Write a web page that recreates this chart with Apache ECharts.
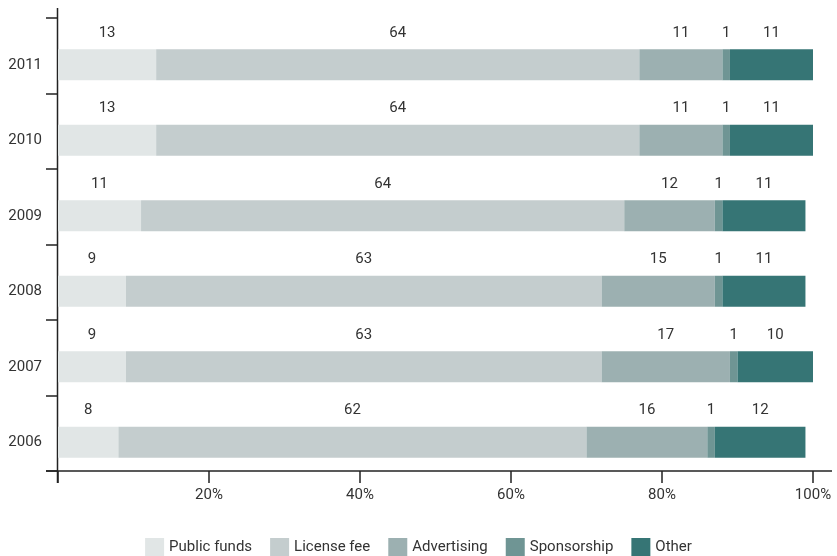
<!DOCTYPE html>
<html>
<head>
<meta charset="utf-8">
<script src="https://cdn.jsdelivr.net/npm/echarts@6/dist/echarts.min.js"></script>
<style>
  html, body { margin: 0; padding: 0; background: #fff; }
  #chart { width: 837px; height: 556px; }
</style>
</head>
<body>
<div id="chart"></div>
<script>
// Funding mix per year, in percent (top row first)
const years = ['2011', '2010', '2009', '2008', '2007', '2006'];
const publicFunds = [13, 13, 11, 9, 9, 8];
const licenseFee = [64, 64, 64, 63, 63, 62];
const advertising = [11, 11, 12, 15, 17, 16];
const sponsorship = [1, 1, 1, 1, 1, 1];
const other = [11, 11, 11, 11, 10, 12];
const xTicks = [0, 20, 40, 60, 80, 100];

const seriesDefs = [
  { name: 'Public funds', data: publicFunds, color: '#e1e6e6' },
  { name: 'License fee', data: licenseFee, color: '#c4cdce' },
  { name: 'Advertising', data: advertising, color: '#9cb0b1' },
  { name: 'Sponsorship', data: sponsorship, color: '#6f9594' },
  { name: 'Other', data: other, color: '#367575' }
];

const FONT = 'Roboto';
const TEXT = '#333';
const AXIS = '#222';
const W = 837, H = 556;
const LEFT = 58, RIGHT_EDGE = 813;
const AXIS_TOP = 18, PLOT_H = 453;
const BAR_SHIFT = 9; // bars sit in the lower part of each row, value labels above
const X_AXIS_Y = AXIS_TOP + PLOT_H;

const chart = echarts.init(document.getElementById('chart'), null, { renderer: 'canvas' });

chart.setOption({
  animation: false,
  textStyle: { fontFamily: FONT },
  legend: {
    data: seriesDefs.map(s => s.name),
    left: 'center',
    top: 533,
    icon: 'rect',
    itemWidth: 19,
    itemHeight: 19,
    itemGap: 18,
    textStyle: { fontFamily: FONT, fontSize: 15, color: TEXT }
  },
  grid: [
    // bars
    { left: LEFT, right: W - RIGHT_EDGE, top: AXIS_TOP + BAR_SHIFT, height: PLOT_H, outerBoundsMode: 'none' },
    // axis frame
    { left: LEFT, right: W - RIGHT_EDGE, top: AXIS_TOP, height: PLOT_H, outerBoundsMode: 'none' }
  ],
  xAxis: [
    { type: 'value', gridIndex: 0, min: 0, max: 100, interval: 20, show: false },
    {
      type: 'value', gridIndex: 1, min: 0, max: 100, interval: 20,
      splitLine: { show: false },
      axisLine: { show: false },
      axisTick: { show: true, length: 12, lineStyle: { color: AXIS, width: 1.5 } },
      axisLabel: {
        margin: 17, fontSize: 15, color: TEXT, fontFamily: FONT,
        formatter: v => (v === 0 ? '' : v + '%')
      }
    }
  ],
  yAxis: [
    {
      type: 'category', gridIndex: 0, data: years, inverse: true,
      axisLine: { show: false },
      axisTick: { show: false },
      axisLabel: { margin: 16, fontSize: 15, color: TEXT, fontFamily: FONT }
    },
    {
      type: 'category', gridIndex: 1, data: years, inverse: true,
      axisLine: { show: false },
      axisTick: { show: true, length: 12, lineStyle: { color: AXIS, width: 1.5 } },
      axisLabel: { show: false }
    }
  ],
  series: seriesDefs.map(s => ({
    name: s.name,
    type: 'bar',
    stack: 'total',
    xAxisIndex: 0,
    yAxisIndex: 0,
    barWidth: 31,
    data: s.data,
    itemStyle: { color: s.color },
    label: {
      show: true,
      position: 'top',
      distance: 9,
      fontSize: 15,
      fontFamily: FONT,
      color: TEXT
    }
  })),
  graphic: [
    {
      type: 'line', silent: true,
      shape: { x1: LEFT - 0.5, y1: 8, x2: LEFT - 0.5, y2: X_AXIS_Y + 12 },
      style: { stroke: AXIS, lineWidth: 1.5 }
    },
    {
      type: 'line', silent: true,
      shape: { x1: LEFT - 12, y1: X_AXIS_Y, x2: 832, y2: X_AXIS_Y },
      style: { stroke: AXIS, lineWidth: 1.5 }
    }
  ]
});
</script>
</body>
</html>
